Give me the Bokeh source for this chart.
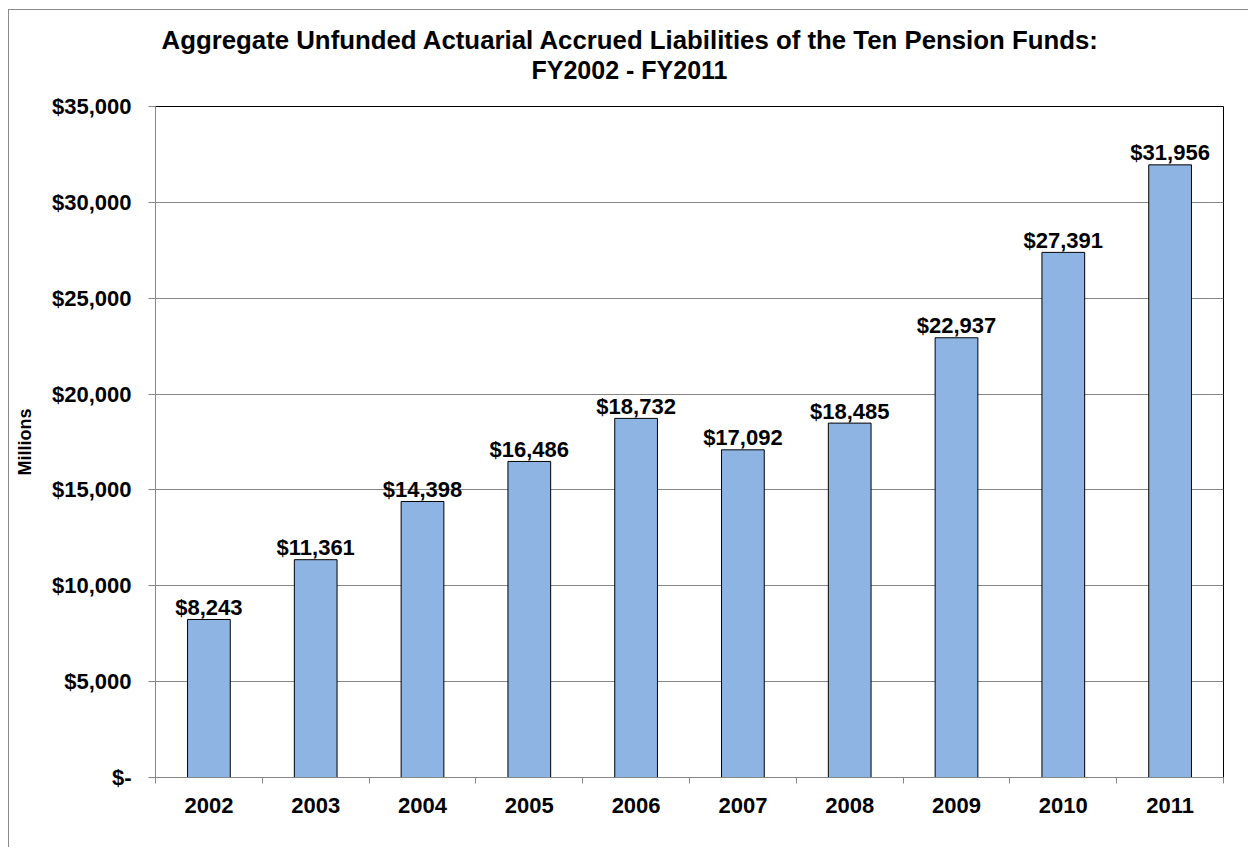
from bokeh.plotting import figure
from bokeh.models import (Range1d, FixedTicker, CustomJSTickFormatter, NumeralTickFormatter,
                          Title, ColumnDataSource)
from bokeh.core.properties import value
from bokeh.embed import file_html
from bokeh.resources import INLINE

years = ["2002", "2003", "2004", "2005", "2006", "2007", "2008", "2009", "2010", "2011"]
values = [8243, 11361, 14398, 16486, 18732, 17092, 18485, 22937, 27391, 31956]
labels = ["$8,243", "$11,361", "$14,398", "$16,486", "$18,732", "$17,092", "$18,485",
          "$22,937", "$27,391", "$31,956"]
y_ticks = [0, 5000, 10000, 15000, 20000, 25000, 30000, 35000]
title_lines = ["Aggregate Unfunded Actuarial Accrued Liabilities of the Ten Pension Funds:",
               "FY2002 - FY2011"]

FONT = "Liberation Sans"
GRID = "#868686"
LBL = "22px"

centers = [i + 0.5 for i in range(len(years))]
src = ColumnDataSource(dict(x=centers, top=values, label=labels))

p = figure(width=1240, height=838, output_backend="svg", toolbar_location=None,
           x_range=Range1d(0, len(years)), y_range=Range1d(0, 35000),
           min_border_left=146, min_border_right=26, min_border_bottom=71, min_border_top=96)
p.styles = {"border-left": "1px solid #8a8a8a", "border-top": "1px solid #8a8a8a",
            "margin-top": "9px", "margin-left": "8px"}

p.vbar(x="x", top="top", width=0.4, source=src, fill_color="#8EB4E3",
       line_color="black", line_width=1)
p.text(x="x", y="top", text="label", source=src, text_align="center",
       text_baseline="alphabetic", y_offset=-12, text_font=value(FONT),
       text_font_style="bold", text_font_size=LBL, text_color="black")

p.outline_line_color = "black"
p.outline_line_width = 1
p.background_fill_color = "white"
p.border_fill_color = "white"

p.xgrid.visible = False
p.ygrid.ticker = FixedTicker(ticks=y_ticks)
p.ygrid.grid_line_color = GRID
p.ygrid.grid_line_width = 1

# y axis
ya = p.yaxis[0]
ya.ticker = FixedTicker(ticks=y_ticks)
ya.formatter = NumeralTickFormatter(format="$0,0")
ya.major_label_overrides = {0: "$-"}
ya.major_label_text_font = FONT
ya.major_label_text_font_style = "bold"
ya.major_label_text_font_size = LBL
ya.major_label_text_color = "black"
ya.major_tick_out = 7
ya.major_tick_in = 0
ya.minor_tick_line_color = None
ya.major_tick_line_color = GRID
ya.axis_line_color = GRID
ya.major_label_standoff = 17
ya.axis_label = "Millions"
ya.axis_label_text_font = FONT
ya.axis_label_text_font_style = "bold"
ya.axis_label_text_font_size = "18px"
ya.axis_label_text_color = "black"
ya.axis_label_standoff = 14

# x axis
xa = p.xaxis[0]
xa.ticker = FixedTicker(ticks=centers, minor_ticks=list(range(len(years) + 1)))
xa.formatter = CustomJSTickFormatter(args=dict(years=years),
                                     code="return years[Math.floor(tick)];")
xa.major_label_text_font = FONT
xa.major_label_text_font_style = "bold"
xa.major_label_text_font_size = LBL
xa.major_label_text_color = "black"
xa.major_tick_out = 0
xa.major_tick_in = 0
xa.major_tick_line_color = None
xa.minor_tick_out = 6
xa.minor_tick_in = 0
xa.minor_tick_line_color = GRID
xa.axis_line_color = GRID
xa.major_label_standoff = 14

# titles: a blank spacer nearest the frame, then line 2, then line 1
spacer = Title(text=" ", text_font_size="19px", standoff=0)
t2 = Title(text=title_lines[1], align="left", offset=376, text_font=FONT,
           text_font_style="bold", text_font_size="25px", text_color="black", standoff=0)
t1 = Title(text=title_lines[0], align="left", offset=6, text_font=FONT,
           text_font_style="bold", text_font_size="25.8px", text_color="black", standoff=0)
p.add_layout(spacer, "above")
p.add_layout(t2, "above")
p.add_layout(t1, "above")

open("out.html", "w").write(file_html(p, INLINE))
